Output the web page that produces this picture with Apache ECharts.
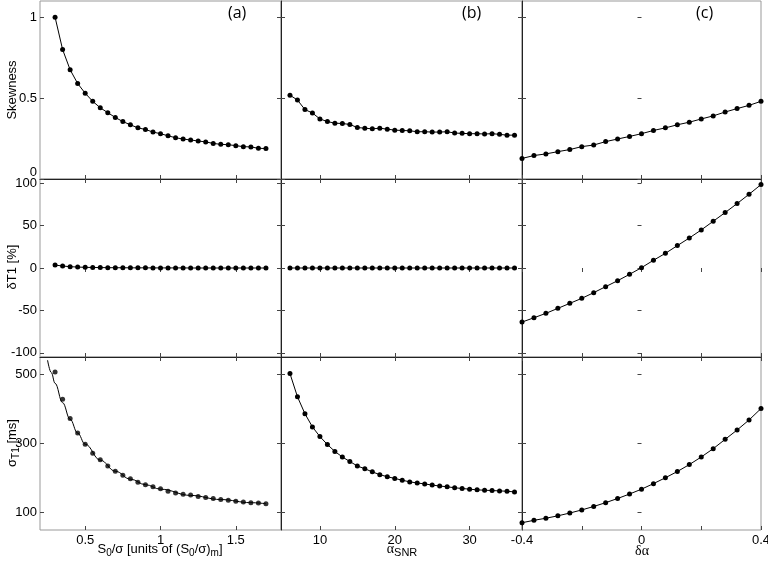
<!DOCTYPE html>
<html>
<head>
<meta charset="utf-8">
<script src="https://cdn.jsdelivr.net/npm/echarts@6/dist/echarts.min.js"></script>
<style>
  html, body { margin: 0; padding: 0; background: #fff; }
  #chart { width: 768px; height: 562px; }
</style>
</head>
<body>
<div id="chart"></div>
<script>
// x 数据
var xA = [0.3, 0.35, 0.4, 0.45, 0.5, 0.55, 0.6, 0.65, 0.7, 0.75, 0.8, 0.85, 0.9, 0.95, 1.0,
  1.05, 1.1, 1.15, 1.2, 1.25, 1.3, 1.35, 1.4, 1.45, 1.5, 1.55, 1.6, 1.65, 1.7];
var xB = [6, 7, 8, 9, 10, 11, 12, 13, 14, 15, 16, 17, 18, 19, 20, 21, 22, 23, 24, 25, 26,
  27, 28, 29, 30, 31, 32, 33, 34, 35, 36];
var xC = [-0.4, -0.36, -0.32, -0.28, -0.24, -0.2, -0.16, -0.12, -0.08, -0.04, 0,
  0.04, 0.08, 0.12, 0.16, 0.2, 0.24, 0.28, 0.32, 0.36, 0.4];

// 第一行 Skewness
var skewA = [1.0, 0.80, 0.675, 0.59, 0.53, 0.48, 0.44, 0.41, 0.38, 0.355, 0.335, 0.316, 0.306,
  0.29, 0.28, 0.267, 0.255, 0.247, 0.241, 0.235, 0.229, 0.22, 0.214, 0.212, 0.206, 0.2,
  0.198, 0.19, 0.188];
var skewB = [0.518, 0.488, 0.429, 0.408, 0.371, 0.355, 0.345, 0.343, 0.337, 0.318, 0.314,
  0.310, 0.314, 0.308, 0.302, 0.300, 0.298, 0.292, 0.292, 0.290, 0.290, 0.292, 0.284,
  0.282, 0.280, 0.280, 0.278, 0.280, 0.276, 0.271, 0.271];
var skewC = [0.127, 0.145, 0.155, 0.169, 0.182, 0.200, 0.210, 0.231, 0.247, 0.263, 0.280,
  0.300, 0.316, 0.335, 0.351, 0.371, 0.390, 0.414, 0.435, 0.455, 0.480];

// 第二行 δT1 [%]
var dT1A = [3.5, 2.3, 1.6, 1.1, 0.8, 0.6, 0.5, 0.4, 0.3, 0.3, 0.2, 0.2, 0.2, 0.1, 0.1,
  0.1, 0.1, 0.1, 0, 0, 0, 0, 0, 0, 0, 0, 0, 0, 0];
var dT1B = [0, 0, 0, 0, 0, 0, 0, 0, 0, 0, 0, 0, 0, 0, 0, 0, 0, 0, 0, 0, 0, 0, 0, 0, 0, 0,
  0, 0, 0, 0, 0];
var dT1C = [-63.8, -58.7, -53.5, -47.6, -41.7, -35.8, -29.1, -22.0, -15.0, -7.5, 0.4,
  9.1, 17.3, 26.4, 35.4, 44.9, 55.1, 65.4, 76.0, 87.0, 98.4];

// 第三行 σT1 [ms]
var sdA = [507, 428, 372, 330, 298, 272, 253, 235, 220, 208, 198, 188, 181, 175, 169,
  162, 157, 153, 151, 147, 144, 141, 138, 136, 133, 131, 129, 128, 126];
var sdLineAX = [0.25, 0.275, 0.3, 0.35, 0.4, 0.45, 0.5, 0.6, 0.7, 0.8, 0.9, 1.0, 1.2, 1.4, 1.6, 1.7];
var sdLineAY = [541, 505, 474, 418, 370, 330, 298, 252, 220, 197, 181, 168, 150, 138, 129, 126];
var sdB = [502, 435, 386, 348, 320, 297, 277, 261, 248, 235, 227, 218, 210, 204, 199,
  194, 189, 186, 183, 180, 177, 175, 172, 170, 168, 166, 165, 164, 163, 162, 160];
var sdC = [71, 78, 84, 91, 99, 108, 118, 129, 141, 154, 168, 184, 201, 219, 239, 261,
  285, 312, 339, 368, 401];

// 坐标轴刻度
var xTicks = [[0.5, 1, 1.5], [10, 20, 30], [-0.4, -0.2, 0, 0.2, 0.4]];
var xLabels = [[0.5, 1, 1.5], [10, 20, 30], [-0.4, 0, 0.4]];
var yTicks = [[0, 0.5, 1], [-100, -50, 0, 50, 100], [100, 300, 500]];
var xRange = [[0.2, 1.8], [4.8, 37], [-0.4, 0.4]];
var yRange = [[0, 1.1], [-105, 105], [50, 550]];

(function () {
  var myChart = echarts.init(document.getElementById("chart"));

  var cols = [{ left: 40, width: 241 }, { left: 281, width: 241 }, { left: 522, width: 239 }];
  var rows = [{ top: 1, height: 178 }, { top: 179, height: 178 }, { top: 357, height: 173 }];
  var font = "Liberation Sans";

  function pairs(xs, ys) {
    return xs.map(function (x, i) { return [x, ys[i]]; });
  }

  var panelData = [
    [skewA, skewB, skewC],
    [dT1A, dT1B, dT1C],
    [sdA, sdB, sdC]
  ];
  var xs = [xA, xB, xC];

  var grid = [], xAxis = [], yAxis = [], series = [];

  for (var r = 0; r < 3; r++) {
    for (var c = 0; c < 3; c++) {
      var p = r * 3 + c;
      grid.push({
        left: cols[c].left, width: cols[c].width,
        top: rows[r].top, height: rows[r].height,
        outerBoundsMode: "none", containLabel: false,
        show: true, borderColor: "#999", borderWidth: 1, backgroundColor: "#fff"
      });
      // 底部 x 轴
      xAxis.push({
        type: "value", gridIndex: p, position: "bottom",
        min: xRange[c][0], max: xRange[c][1],
        splitLine: { show: false },
        axisLine: { show: r < 2, onZero: false, lineStyle: { color: "#222" } },
        axisTick: { show: true, inside: true, length: 4, customValues: xTicks[c], lineStyle: { color: "#444" } },
        axisLabel: {
          show: r === 2, customValues: xLabels[c], color: "#000",
          fontFamily: font, fontSize: 13, margin: 4, showMinLabel: true, showMaxLabel: true
        }
      });
      // 顶部 x 轴 (只有刻度)
      xAxis.push({
        type: "value", gridIndex: p, position: "top",
        min: xRange[c][0], max: xRange[c][1],
        splitLine: { show: false },
        axisLine: { show: false },
        axisTick: { show: true, inside: true, length: 4, customValues: xTicks[c], lineStyle: { color: "#444" } },
        axisLabel: { show: false }
      });
      // 左侧 y 轴
      yAxis.push({
        type: "value", gridIndex: p, position: "left",
        min: yRange[r][0], max: yRange[r][1],
        splitLine: { show: false },
        axisLine: { show: c > 0, onZero: false, lineStyle: { color: "#222" } },
        axisTick: { show: true, inside: true, length: 4, customValues: yTicks[r], lineStyle: { color: "#444" } },
        axisLabel: {
          show: c === 0, customValues: yTicks[r], color: "#000",
          fontFamily: font, fontSize: 13, margin: 3, showMinLabel: true, showMaxLabel: true,
          verticalAlignMinLabel: (r === 0 ? "bottom" : null)
        }
      });
      // 右侧 y 轴 (只有刻度)
      yAxis.push({
        type: "value", gridIndex: p, position: "right",
        min: yRange[r][0], max: yRange[r][1],
        splitLine: { show: false },
        axisLine: { show: false },
        axisTick: { show: true, inside: true, length: 4, customValues: yTicks[r], lineStyle: { color: "#444" } },
        axisLabel: { show: false }
      });

      if (r === 2 && c === 0) {
        // 理论曲线 + 数据点
        series.push({
          type: "line", xAxisIndex: 2 * p, yAxisIndex: 2 * p,
          data: pairs(sdLineAX, sdLineAY), showSymbol: false,
          smooth: 0.4, smoothMonotone: "x",
          lineStyle: { color: "#000", width: 1 }
        });
        series.push({
          type: "scatter", xAxisIndex: 2 * p, yAxisIndex: 2 * p,
          data: pairs(xA, sdA), symbol: "circle", symbolSize: 5,
          itemStyle: { color: "#000" }
        });
      } else {
        series.push({
          type: "line", xAxisIndex: 2 * p, yAxisIndex: 2 * p,
          data: pairs(xs[c], panelData[r][c]),
          symbol: "circle", symbolSize: 5, showAllSymbol: true,
          lineStyle: { color: "#000", width: 1 },
          itemStyle: { color: "#000" }
        });
      }
    }
  }

  var sub = { fontSize: 10, fontFamily: font, padding: [8, 0, 0, 0] };

  var option = {
    animation: false,
    backgroundColor: "#fff",
    grid: grid,
    xAxis: xAxis,
    yAxis: yAxis,
    series: series,
    graphic: [
      { type: "text", left: 228, top: 5, style: { text: "(a)", fontFamily: "Open Sans", fontSize: 16, fill: "#000" } },
      { type: "text", left: 462, top: 5, style: { text: "(b)", fontFamily: "Open Sans", fontSize: 16, fill: "#000" } },
      { type: "text", left: 696, top: 5, style: { text: "(c)", fontFamily: "Open Sans", fontSize: 16, fill: "#000" } },
      {
        type: "text", x: 12, y: 90, rotation: Math.PI / 2,
        style: { text: "Skewness", fontFamily: font, fontSize: 13, fill: "#000", align: "center", verticalAlign: "middle" }
      },
      {
        type: "text", x: 12, y: 267, rotation: Math.PI / 2,
        style: { text: "δT1 [%]", fontFamily: font, fontSize: 13, fill: "#000", align: "center", verticalAlign: "middle" }
      },
      {
        type: "text", x: 12, y: 443, rotation: Math.PI / 2,
        style: {
          text: "σ{sub|T1} [ms]", fontFamily: font, fontSize: 13, fill: "#000",
          align: "center", verticalAlign: "middle", rich: { sub: sub }
        }
      },
      {
        type: "text", x: 160, y: 549,
        style: {
          text: "S{sub|0}/σ [units of (S{sub|0}/σ){sub|m}]", fontFamily: font, fontSize: 13, fill: "#000",
          align: "center", verticalAlign: "middle", rich: { sub: sub }
        }
      },
      {
        type: "text", x: 402, y: 549,
        style: {
          text: "{a|α}{sub|SNR}", fontFamily: font, fontSize: 13, fill: "#000",
          align: "center", verticalAlign: "middle",
          rich: { a: { fontFamily: "Liberation Serif", fontSize: 14 }, sub: { fontSize: 11, fontFamily: font, padding: [8, 0, 0, 0] } }
        }
      },
      {
        type: "text", x: 642, y: 551,
        style: { text: "δα", fontFamily: "Liberation Serif", fontSize: 14, fill: "#000", align: "center", verticalAlign: "middle" }
      }
    ]
  };

  myChart.setOption(option);
  window.addEventListener("resize", function () {
    myChart.resize();
  });
})();
</script>
</body>
</html>
